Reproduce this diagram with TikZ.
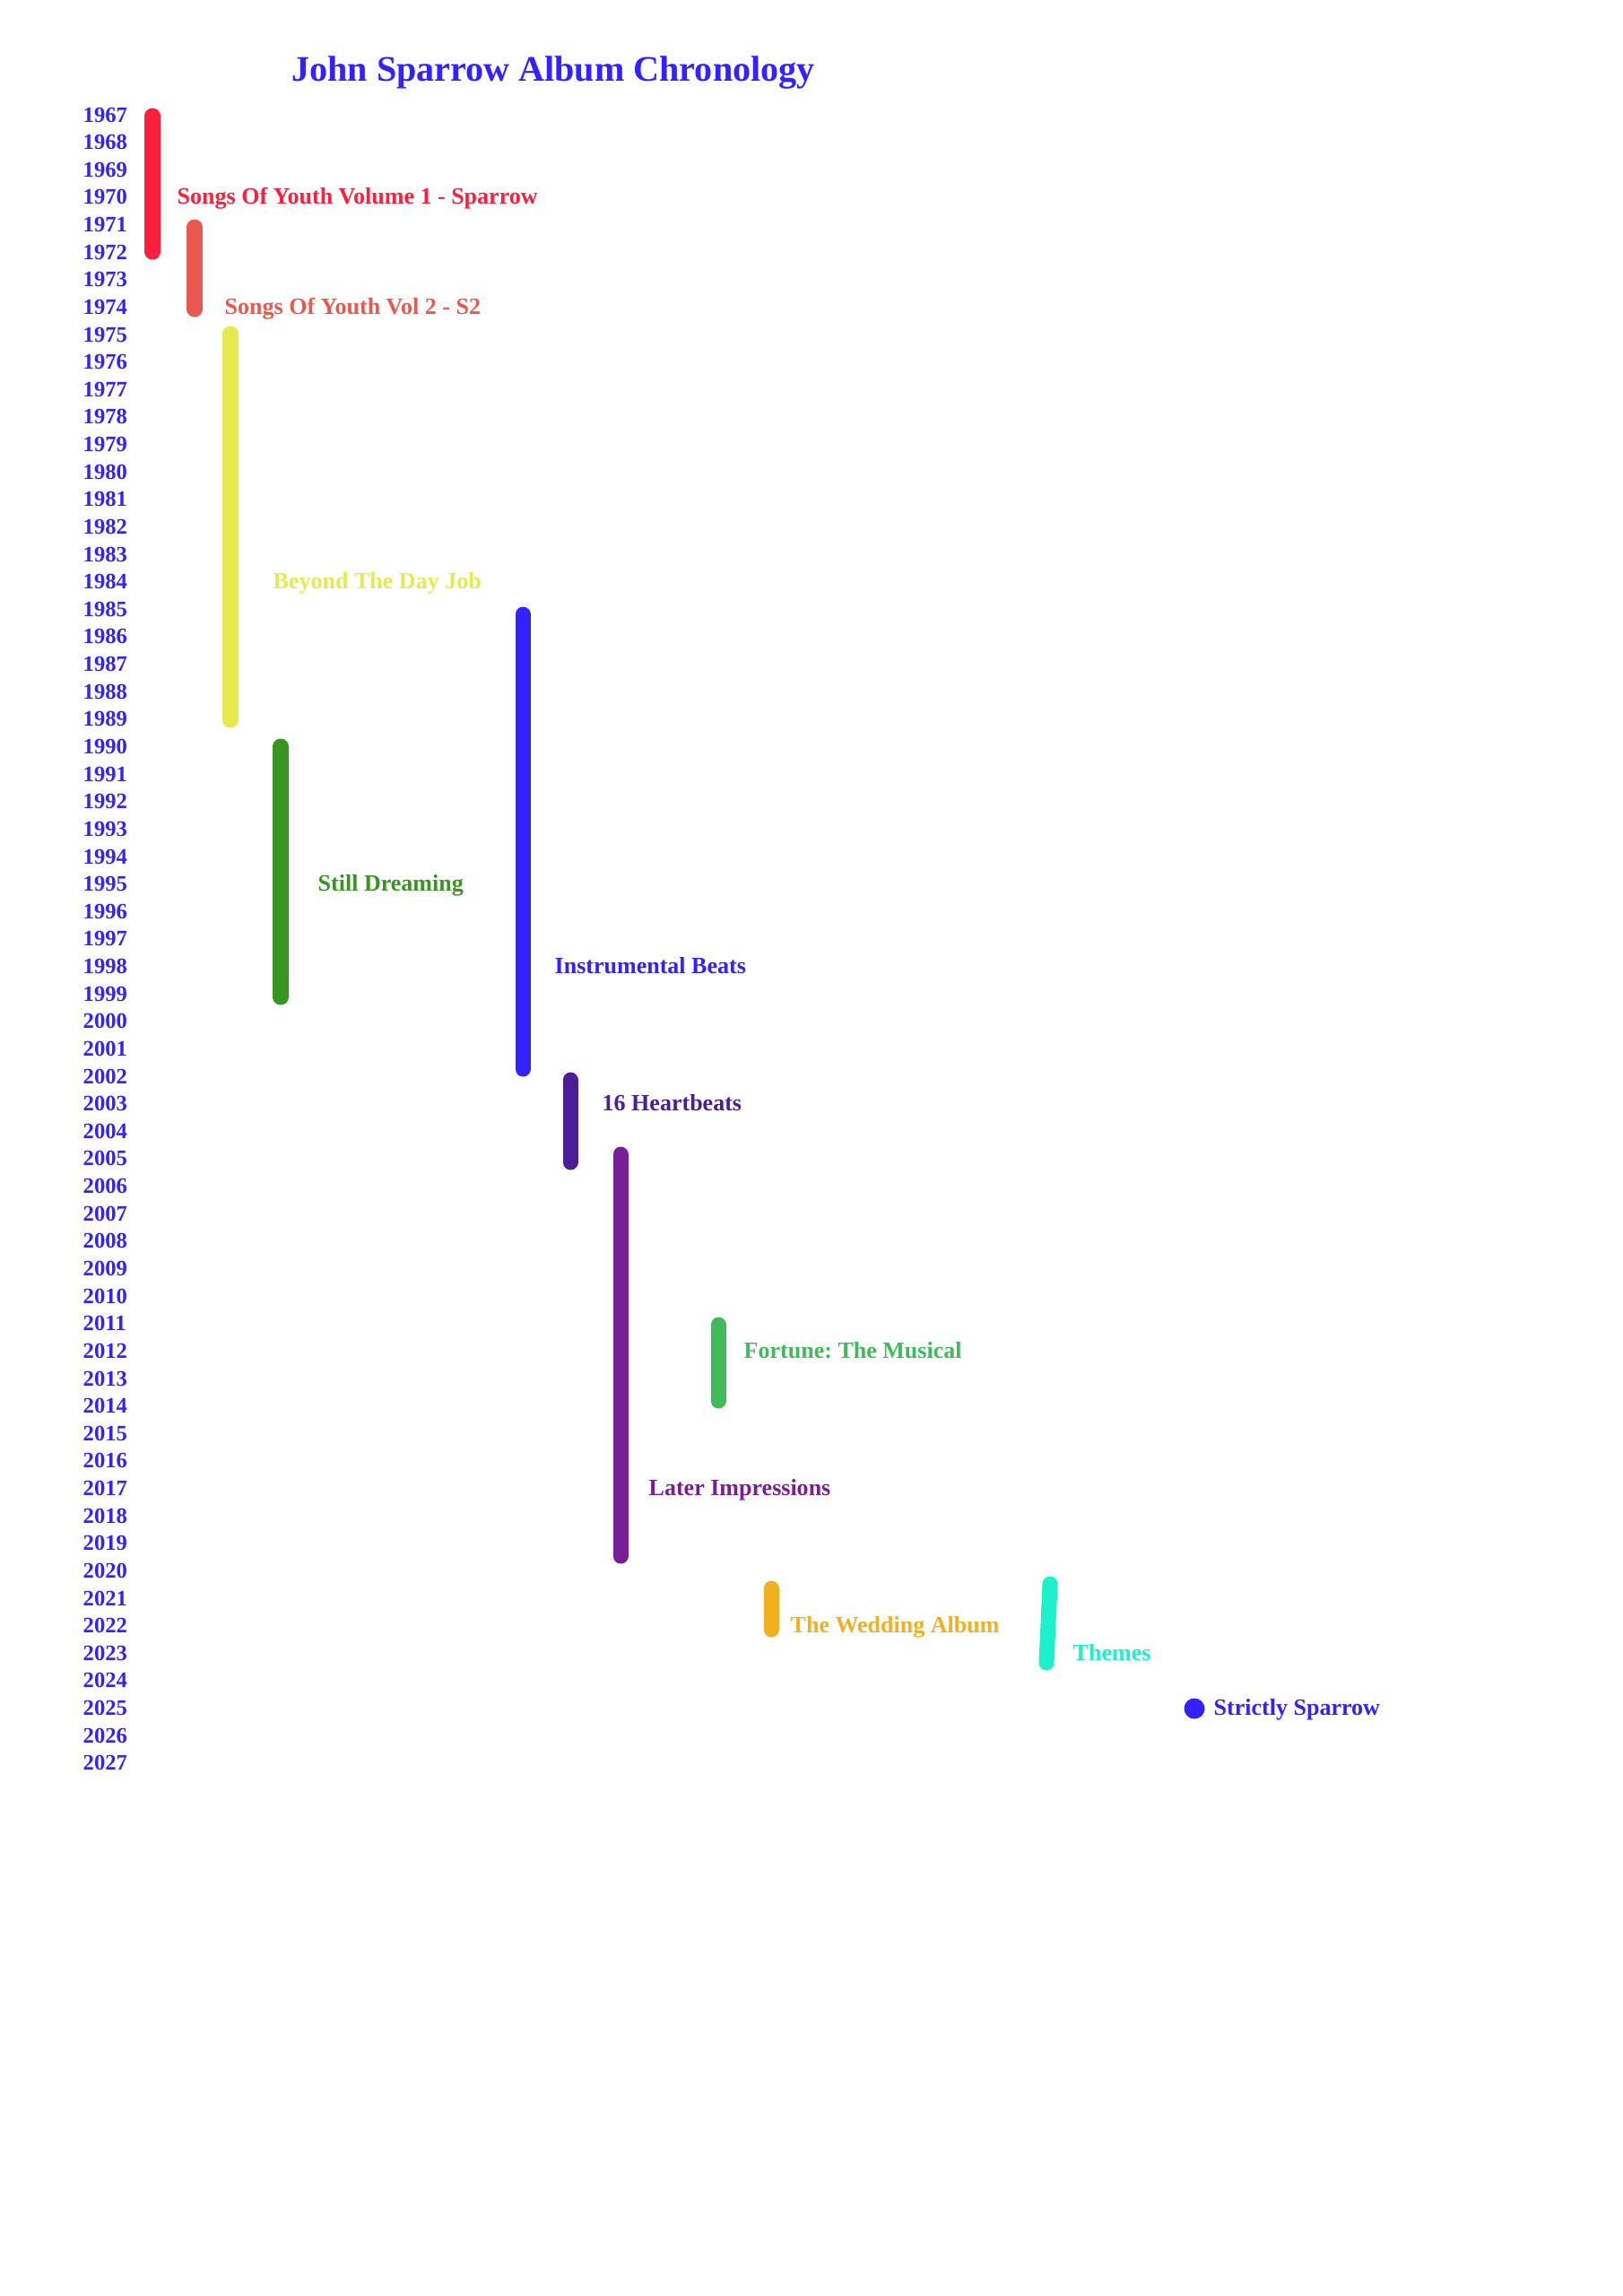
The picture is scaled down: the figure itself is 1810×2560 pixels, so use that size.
\documentclass[tikz,border=0pt]{standalone}
\usepackage{fontspec}
\setmainfont{Liberation Serif}
\frenchspacing
\definecolor{yearblue}{HTML}{3322FF}
\definecolor{cred}{HTML}{FF1F3C}
\definecolor{csalmon}{HTML}{E85A50}
\definecolor{cyellow}{HTML}{E8E850}
\definecolor{cgreen}{HTML}{389620}
\definecolor{cblue}{HTML}{3322FF}
\definecolor{cindigo}{HTML}{4A1E96}
\definecolor{cpurple}{HTML}{781E96}
\definecolor{cmint}{HTML}{40BA5A}
\definecolor{corange}{HTML}{F0B020}
\definecolor{cturq}{HTML}{1EF0CC}

\begin{document}
\begin{tikzpicture}[x=0.01cm, y=-0.01cm,
        yearlbl/.style={font=\bfseries\fontsize{7}{8}\selectfont, text=yearblue, anchor=base west, inner sep=0pt},
        bar/.style={line width=0.17cm, line cap=round},
        lbl/.style={font=\bfseries\fontsize{7.4}{9}\selectfont, anchor=base west, inner sep=0pt}
      ]
  \useasboundingbox (0,0) rectangle (1810,2560);

  \node[font=\bfseries\fontsize{11.4}{14}\selectfont, text=yearblue] (title) at (617,81) {John Sparrow Album Chronology};

  % years
  \foreach \i in {0,...,60} {
    \pgfmathtruncatemacro{\yr}{1967+\i}
    \node[yearlbl] (y\yr) at (92,{136+\i*30.63}) {\yr};
  }

  % albums: name/x top/y top/x bottom/y bottom/colour/label year/label x/title
  \foreach \n/\xa/\ya/\xb/\yb/\c/\yr/\lx/\txt in {
      sy1/170/129/170/281/cred/1970/197/Songs Of Youth Volume 1 - Sparrow,
      sy2/217/253/217/345/csalmon/1974/250/Songs Of Youth Vol 2 - S2,
      btdj/257/372/257/803/cyellow/1984/304/Beyond The Day Job,
      sd/313/832/313/1112/cgreen/1995/354/Still Dreaming,
      ib/583/685/583/1192/cblue/1998/618/Instrumental Beats,
      hb/636/1204/636/1296/cindigo/2003/671/16 Heartbeats,
      li/692/1287/692/1735/cpurple/2017/723/Later Impressions,
      ftm/801/1477/801/1562/cmint/2012/829/Fortune: The Musical,
      twa/860/1771/860/1817/corange/2022/881/The Wedding Album,
      th/1171/1766/1167/1854/cturq/2023/1196/Themes} {
    \coordinate (\n a) at (\xa,\ya);
    \coordinate (\n b) at (\xb,\yb);
    \draw[bar, \c] (\n a) -- (\n b);
    \node[lbl, text=\c] (\n l) at (\lx,0 |- y\yr.base) {\txt};
  }

  % single
  \node[circle, fill=cblue, minimum size=0.23cm, inner sep=0pt] (ss) at (1332,1905) {};
  \node[lbl, text=cblue] (ssl) at (1353,0 |- y2025.base) {Strictly Sparrow};

\end{tikzpicture}
\end{document}
